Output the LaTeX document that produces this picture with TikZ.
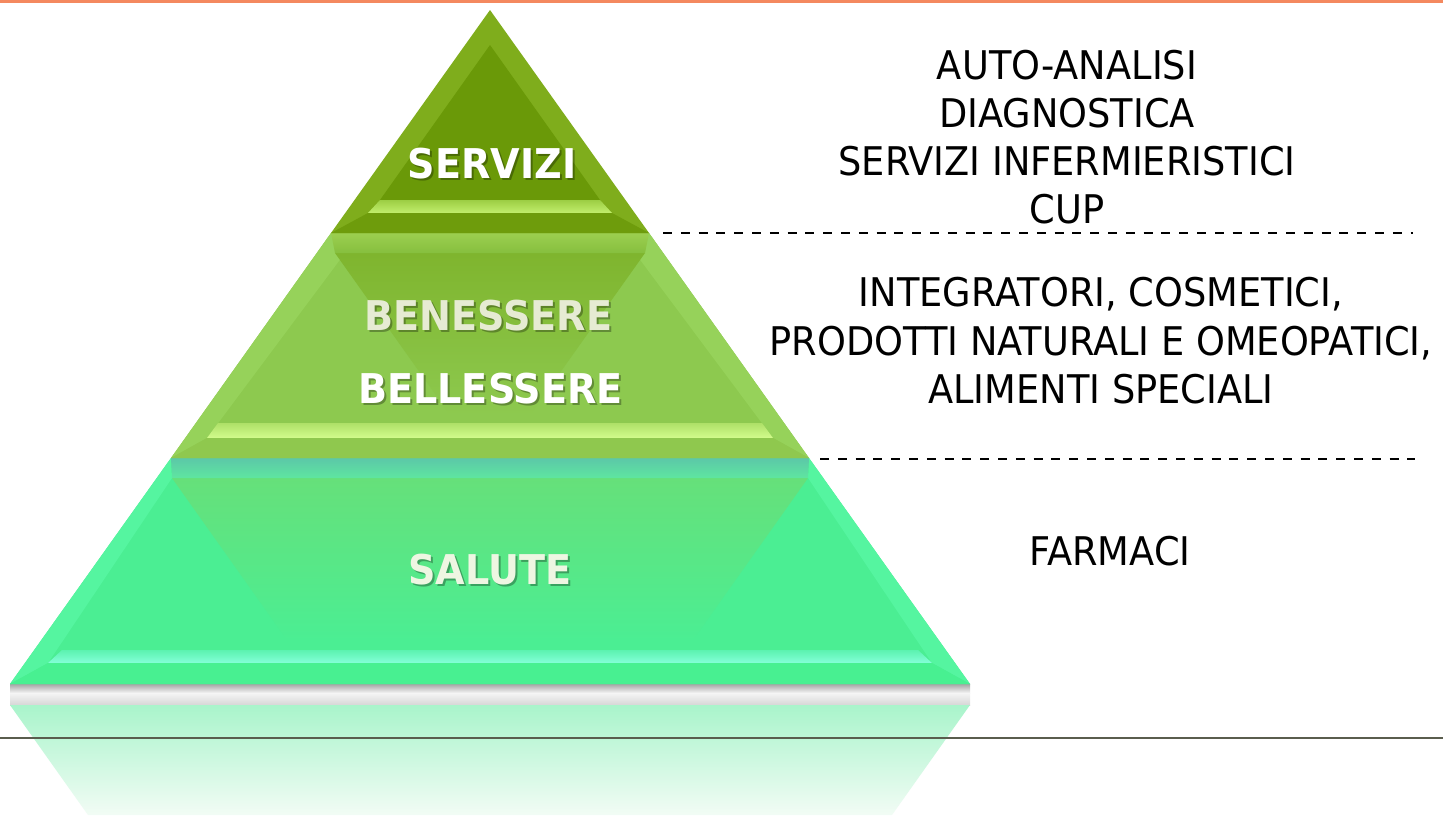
\documentclass[tikz,border=0pt]{standalone}
\usepackage{fontspec}
\setmainfont{DejaVu Sans}
\newfontfamily\rfont{DejaVu Sans}[FakeStretch=0.93]
\newfontfamily\lfont{DejaVu Sans}[FakeStretch=0.93]
\definecolor{orangetop}{HTML}{F4895F}
\definecolor{groundline}{HTML}{5A5D4E}
\definecolor{topside}{HTML}{7FAD1C}
\definecolor{topface}{HTML}{6A9908}
\definecolor{topband}{HTML}{6E9C0C}
\definecolor{tophiA}{HTML}{9CCE44}
\definecolor{tophiB}{HTML}{C2EE6C}
\definecolor{midside}{HTML}{8DC94F}
\definecolor{midfacet}{HTML}{96D25A}
\definecolor{midface}{HTML}{7FB52E}
\definecolor{midband}{HTML}{8FC84E}
\definecolor{midhiA}{HTML}{AEE068}
\definecolor{midhiB}{HTML}{D2FC8C}
\definecolor{midtopA}{HTML}{9CCF50}
\definecolor{midtopB}{HTML}{C6F27C}
\definecolor{midtopC}{HTML}{86BF3E}
\definecolor{botside}{HTML}{4BEE93}
\definecolor{botfacet}{HTML}{55F5A0}
\definecolor{botface}{HTML}{66E07A}
\definecolor{botband}{HTML}{48F091}
\definecolor{bothiA}{HTML}{5CF2B0}
\definecolor{bothiB}{HTML}{84FFD8}
\definecolor{bottopA}{HTML}{5CC8A8}
\definecolor{bottopB}{HTML}{80F7D4}
\definecolor{bottopC}{HTML}{5EE6A0}
\definecolor{reflTop}{HTML}{A9F4CB}
\definecolor{reflBot}{HTML}{F2FCF5}
\definecolor{benecol}{HTML}{E6EBD3}
\definecolor{salcol}{HTML}{EEF6E2}
\begin{document}
\begin{tikzpicture}[x=1pt,y=-1pt,
  rtext/.style={anchor=base, inner sep=0pt, text=black,
    font=\rfont\fontsize{39.5}{46}\selectfont},
  ltext/.style={anchor=base, inner sep=0pt,
    font=\lfont\fontsize{41}{48}\selectfont\bfseries},
  lshadow/.style={ltext, text=black, text opacity=0.3},
  sepline/.style={black, line width=1.8pt, dash pattern=on 9pt off 8.8pt}]
\fill[white] (0,0) rectangle (1443,815);
\useasboundingbox (0,0) rectangle (1443,815);
% top orange rule
\fill[orangetop] (0,0) rectangle (1443,2.5);

% shadow and reflection below the pyramid
\shade[top color=black!35, bottom color=black!4] (10,684) rectangle (970,693);
\shade[top color=black!4, bottom color=black!16] (10,693) rectangle (970,705);
\shade[top color=reflTop, bottom color=reflBot] (10,705) -- (970,705) -- (892,815) -- (88,815) -- cycle;
\draw[groundline, line width=2.5pt] (0,738) -- (1443,738);

% ---------- bottom layer ----------
\fill[botside] (171,458) -- (809,458) -- (970,684) -- (10,684) -- cycle;
\fill[botfacet] (171,458) -- (172,478) -- (48,663) -- (10,684) -- cycle;
\fill[botfacet] (809,458) -- (808,478) -- (932,663) -- (970,684) -- cycle;
\shade[top color=botface, bottom color=botside] (172,478) -- (808,478) -- (693,640) -- (287,640) -- cycle;
\shade[top color=bottopA, middle color=bottopB, bottom color=bottopC] (171,458) -- (809,458) -- (808,478) -- (172,478) -- cycle;
\shade[top color=bothiA, bottom color=bothiB] (62,650) -- (918,650) -- (932,663) -- (48,663) -- cycle;
\fill[botband] (48,663) -- (932,663) -- (970,684) -- (10,684) -- cycle;

% ---------- middle layer ----------
\fill[midside] (331,233) -- (649,233) -- (809,458) -- (171,458) -- cycle;
\fill[midfacet] (331,233) -- (345,253) -- (207,438) -- (171,458) -- cycle;
\fill[midfacet] (649,233) -- (635,253) -- (773,438) -- (809,458) -- cycle;
\shade[top color=midface, bottom color=midside] (335,253) -- (645,253) -- (530,415) -- (450,415) -- cycle;
\shade[top color=midtopA, middle color=midtopB, bottom color=midtopC] (331,233) -- (649,233) -- (645,253) -- (335,253) -- cycle;
\shade[top color=midhiA, bottom color=midhiB] (218,423) -- (762,423) -- (773,438) -- (207,438) -- cycle;
\fill[midband] (207,438) -- (773,438) -- (809,458) -- (171,458) -- cycle;

% ---------- top layer ----------
\fill[topside] (490,10) -- (649,233) -- (331,233) -- cycle;
\fill[topface] (490,45) -- (600,200) -- (380,200) -- cycle;
\shade[top color=tophiA, bottom color=tophiB] (380,200) -- (600,200) -- (612,213) -- (368,213) -- cycle;
\fill[topband] (368,213) -- (612,213) -- (649,233) -- (331,233) -- cycle;

% ---------- pyramid labels ----------
\node[lshadow] (servizish) at (494,180) {SERVIZI};
\node[ltext, text=white] (servizi) at (492,178) {SERVIZI};
\node[lshadow] (benesh) at (490.5,332) {BENESSERE};
\node[ltext, text=benecol] (bene) at (488.5,330) {BENESSERE};
\node[lshadow] (bellesh) at (492.5,405) {BELLESSERE};
\node[ltext, text=white] (belle) at (490.5,403) {BELLESSERE};
\node[lshadow] (salutesh) at (492,586) {SALUTE};
\node[ltext, text=salcol] (salute) at (490,584) {SALUTE};

% ---------- separators ----------
\coordinate (s1a) at (663,233);
\coordinate (s1b) at (1413,233);
\coordinate (s2a) at (820,459);
\coordinate (s2b) at (1415,459);
\draw[sepline] (s1a) -- (s1b);
\draw[sepline] (s2a) -- (s2b);

% ---------- right texts ----------
\node[rtext] (a1) at (1067,79) {AUTO-ANALISI};
\node[rtext] (a2) at (1067,127) {DIAGNOSTICA};
\node[rtext] (a3) at (1067,175) {SERVIZI INFERMIERISTICI};
\node[rtext] (a4) at (1067,223) {CUP};
\node[rtext] (b1) at (1101,306) {INTEGRATORI, COSMETICI,};
\node[rtext] (b2) at (1101,355) {PRODOTTI NATURALI E OMEOPATICI,};
\node[rtext] (b3) at (1101,403) {ALIMENTI SPECIALI};
\node[rtext] (c1) at (1110,565) {FARMACI};
\end{tikzpicture}
\end{document}
